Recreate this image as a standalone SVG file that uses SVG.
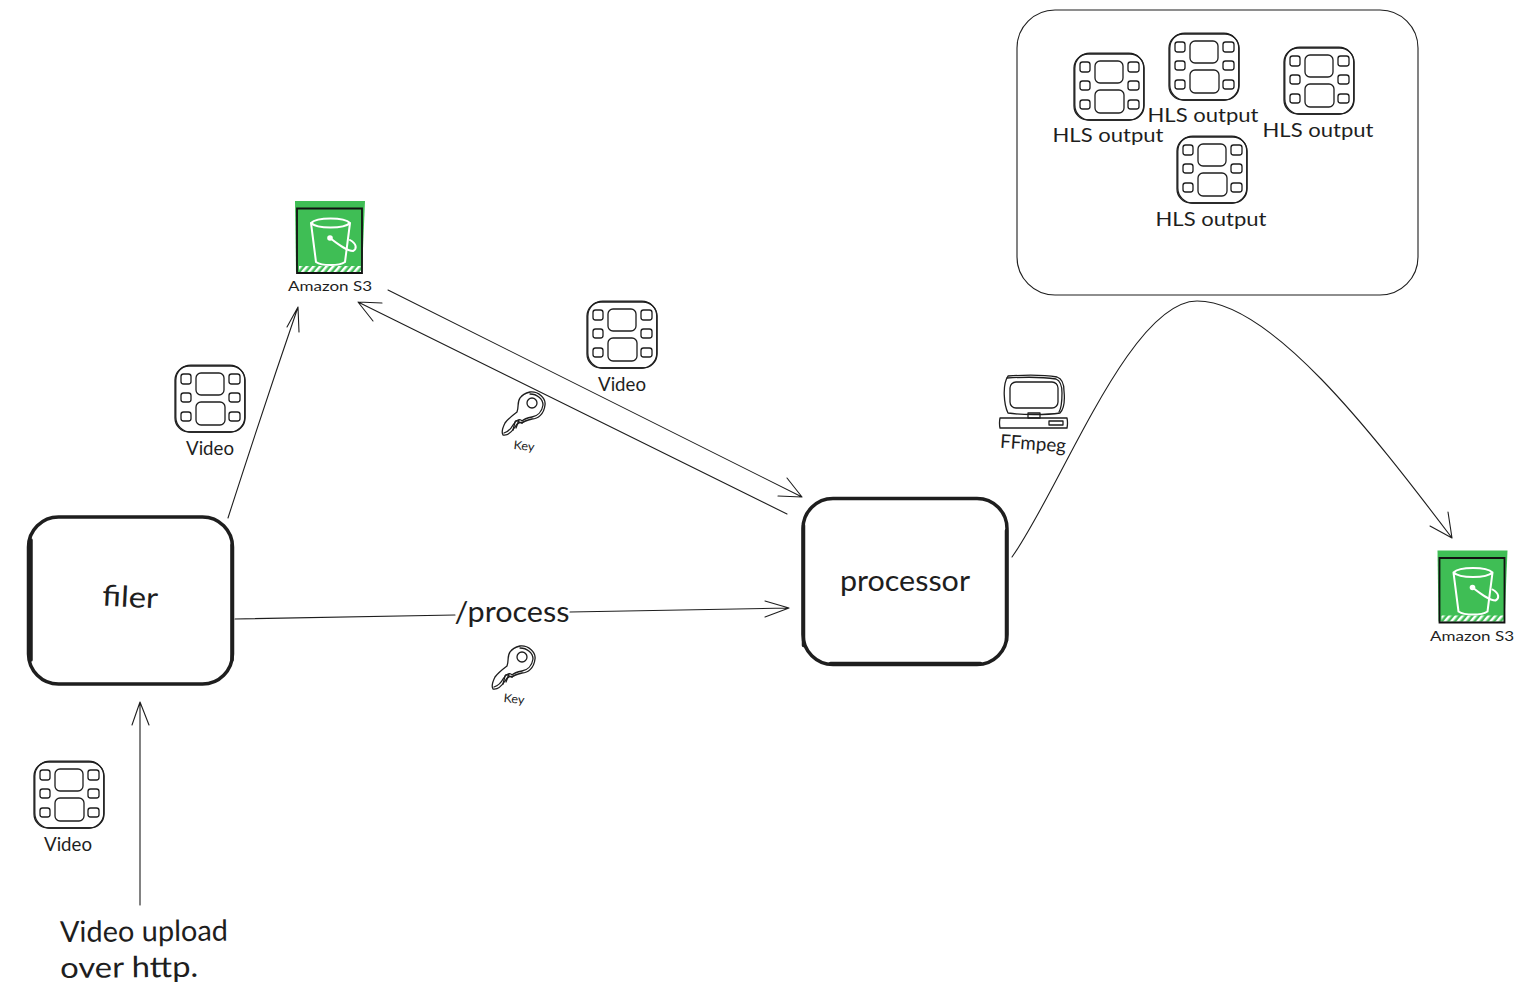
<svg xmlns="http://www.w3.org/2000/svg" width="1524" height="995" viewBox="0 0 1524 995">
<style>
text{font-family:"Lato","Liberation Sans",sans-serif;fill:#1e1e1e}
.s{fill:none;stroke:#1e1e1e;stroke-width:1.300;stroke-linecap:round;stroke-linejoin:round}
.c{fill:none;stroke:#1e1e1e;stroke-width:1.100;stroke-linecap:round;stroke-linejoin:round}
.b{fill:none;stroke:#1e1e1e;stroke-width:3.500;stroke-linecap:round;stroke-linejoin:round}
.w{fill:none;stroke:#fff;stroke-width:2;stroke-linecap:round;stroke-linejoin:round}
</style>
<defs>
<pattern id="hatch" width="5" height="5" patternUnits="userSpaceOnUse" patternTransform="rotate(40)"><rect width="5" height="5" fill="#3fbe55"/><rect width="2.500" height="5" fill="#fff"/></pattern>
<g id="film">
<rect class="s" x="0" y="0" width="70" height="66" rx="14"/>
<rect class="s" x="0.800" y="-0.800" width="69" height="66.800" rx="15"/>
<rect class="s" x="6" y="8" width="10" height="10" rx="2.500"/>
<rect class="s" x="6" y="27" width="10" height="9" rx="2.500"/>
<rect class="s" x="6" y="46" width="10" height="9" rx="2.500"/>
<rect class="s" x="54" y="8" width="11" height="10" rx="2.500"/>
<rect class="s" x="54" y="27" width="11" height="9" rx="2.500"/>
<rect class="s" x="54" y="46" width="11" height="9" rx="2.500"/>
<rect class="s" x="21" y="7" width="28" height="22" rx="5"/>
<rect class="s" x="21" y="36" width="29" height="23" rx="5"/>
</g>
<g id="s3">
<path fill="#3fbe55" d="M0 0H70L67 71H1Z"/>
<rect x="4" y="65" width="62" height="6" fill="url(#hatch)"/>
<path fill="none" stroke="#111" stroke-width="1.800" d="M2 7.500H67V72H2Z"/>
<path class="w" d="M16 22C22 16 49 16 55 22C49 28 22 28 16 22ZM16 22L21 61C27 65 44 65 50 61L55 22"/>
<circle cx="35" cy="37" r="2.800" fill="#fff"/>
<path class="w" d="M35 37C44 44 52 50 58 50C62 48 62 43 55 39"/>
</g>
<g id="key">
<path class="s" d="M28 0C36 -1 44 6 43 13C42 22 36 27 30 27C26 28 22 29 20 31C17 29 15 32 13 35C11 38 6 44 1 43C-1 40 1 35 3 31C6 27 11 23 15 20C17 15 15 10 18 6C20 3 24 1 28 0Z"/>
<path class="s" d="M28 2C35 2 41 7 41 13C40 20 35 24 30 25C25 26 22 27 20 29C18 26 14 28 11 33C9 37 5 40 2 41"/>
<path class="s" d="M20 31C16 30 14 27 13 30L11 38M17 28L14 36"/>
<circle class="s" cx="30" cy="11" r="5"/>
</g>
<g id="pc">
<path class="s" d="M9 -1C24 -2 46 -2 58 0C64 2 65 8 65 14C66 24 65 32 61 36C48 38 22 38 9 36C5 28 3 8 9 -1Z"/>
<path class="s" d="M8 1C24 0 44 0 57 2C62 4 63 10 63 16C63 24 63 30 60 35"/>
<rect class="s" x="11" y="5" width="48" height="26" rx="6"/>
<path class="s" d="M1 41H68Q69 46 68 51H1Q0 46 1 41Z"/>
<path class="s" d="M29 36H41V41H29Z"/>
<path class="s" d="M50 44H64V48H50Z"/>
</g>
</defs>
<g id="connectors">
<path class="c" d="M228 518Q262 412 298 307M287 327L298 307L299 332"/>
<path class="c" d="M388 290Q595 394 802 497M778 496L802 497L787 478"/>
<path class="c" d="M787 514Q573 408 358 302M382 303L358 302L373 321"/>
<path class="c" d="M235 619L455 615M570 612L789 608M765 601L789 608L765 617"/>
<path class="c" d="M140 905V702M132 725L140 702L149 725"/>
<path class="c" d="M1012 557C1060 490 1130 301 1197 301C1270 301 1370 430 1452 538M1430 526L1452 538L1448 512"/>
</g>
<g id="filer"><rect class="b" x="28.500" y="517" width="204" height="167" rx="30"/><path class="b" d="M231 545V660M30 660V540" transform="translate(1 0)"/><text x="130" y="607" font-size="29" text-anchor="middle" textLength="56" lengthAdjust="spacingAndGlyphs" transform="rotate(3 130 600)">filer</text></g>
<g id="processor"><rect class="b" x="803" y="498.500" width="204" height="166" rx="30"/><path class="b" d="M1006 530V640M803 525V645M830 663H980" transform="translate(0.500 0.500)"/><text x="905" y="591" font-size="28" text-anchor="middle" textLength="130" lengthAdjust="spacingAndGlyphs">processor</text></g>
<g id="route-label"><text x="512" y="622" font-size="28" text-anchor="middle" textLength="115" lengthAdjust="spacingAndGlyphs">/process</text></g>
<g id="upload-label"><text font-size="29" transform="rotate(-0.500 60 942)"><tspan x="60" y="942" textLength="168" lengthAdjust="spacingAndGlyphs">Video upload</tspan><tspan x="60" y="978" textLength="138" lengthAdjust="spacingAndGlyphs">over http.</tspan></text></g>
<g id="s3-top"><use href="#s3" x="295" y="201"/><text x="330" y="291" font-size="14" text-anchor="middle" textLength="84" lengthAdjust="spacingAndGlyphs">Amazon S3</text></g>
<g id="s3-right"><use href="#s3" transform="translate(1437.500 550.500)"/><text x="1472" y="641" font-size="14" text-anchor="middle" textLength="84" lengthAdjust="spacingAndGlyphs">Amazon S3</text></g>
<g id="video-upload"><use href="#film" x="34" y="762"/><text x="68" y="851" font-size="19" text-anchor="middle" textLength="48" lengthAdjust="spacingAndGlyphs">Video</text></g>
<g id="video-filer"><use href="#film" x="175" y="366"/><text x="210" y="455" font-size="19" text-anchor="middle" textLength="48" lengthAdjust="spacingAndGlyphs">Video</text></g>
<g id="video-processor"><use href="#film" x="587" y="302"/><text x="622" y="391" font-size="19" text-anchor="middle" textLength="48" lengthAdjust="spacingAndGlyphs">Video</text></g>
<g id="key-top"><use href="#key" x="502" y="392"/><text x="524" y="450" font-size="12" text-anchor="middle" textLength="21" lengthAdjust="spacingAndGlyphs" transform="rotate(6 524 446)">Key</text></g>
<g id="key-bottom"><use href="#key" x="492" y="646"/><text x="514" y="703" font-size="12" text-anchor="middle" textLength="21" lengthAdjust="spacingAndGlyphs" transform="rotate(6 514 699)">Key</text></g>
<g id="ffmpeg"><use href="#pc" x="999" y="377"/><text x="1033" y="450" font-size="19" text-anchor="middle" textLength="66" lengthAdjust="spacingAndGlyphs" transform="rotate(4 1033 445)">FFmpeg</text></g>
<g id="hls-container"><rect class="c" x="1017" y="10" width="401" height="285" rx="38"/></g>
<g id="hls-1"><use href="#film" x="1074" y="54"/><text x="1108" y="142" font-size="19" text-anchor="middle" textLength="111" lengthAdjust="spacingAndGlyphs">HLS output</text></g>
<g id="hls-2"><use href="#film" x="1169" y="34"/><text x="1203" y="122" font-size="19" text-anchor="middle" textLength="111" lengthAdjust="spacingAndGlyphs">HLS output</text></g>
<g id="hls-3"><use href="#film" x="1284" y="48"/><text x="1318" y="137" font-size="19" text-anchor="middle" textLength="111" lengthAdjust="spacingAndGlyphs">HLS output</text></g>
<g id="hls-4"><use href="#film" x="1177" y="137"/><text x="1211" y="226" font-size="19" text-anchor="middle" textLength="111" lengthAdjust="spacingAndGlyphs">HLS output</text></g>
</svg>
